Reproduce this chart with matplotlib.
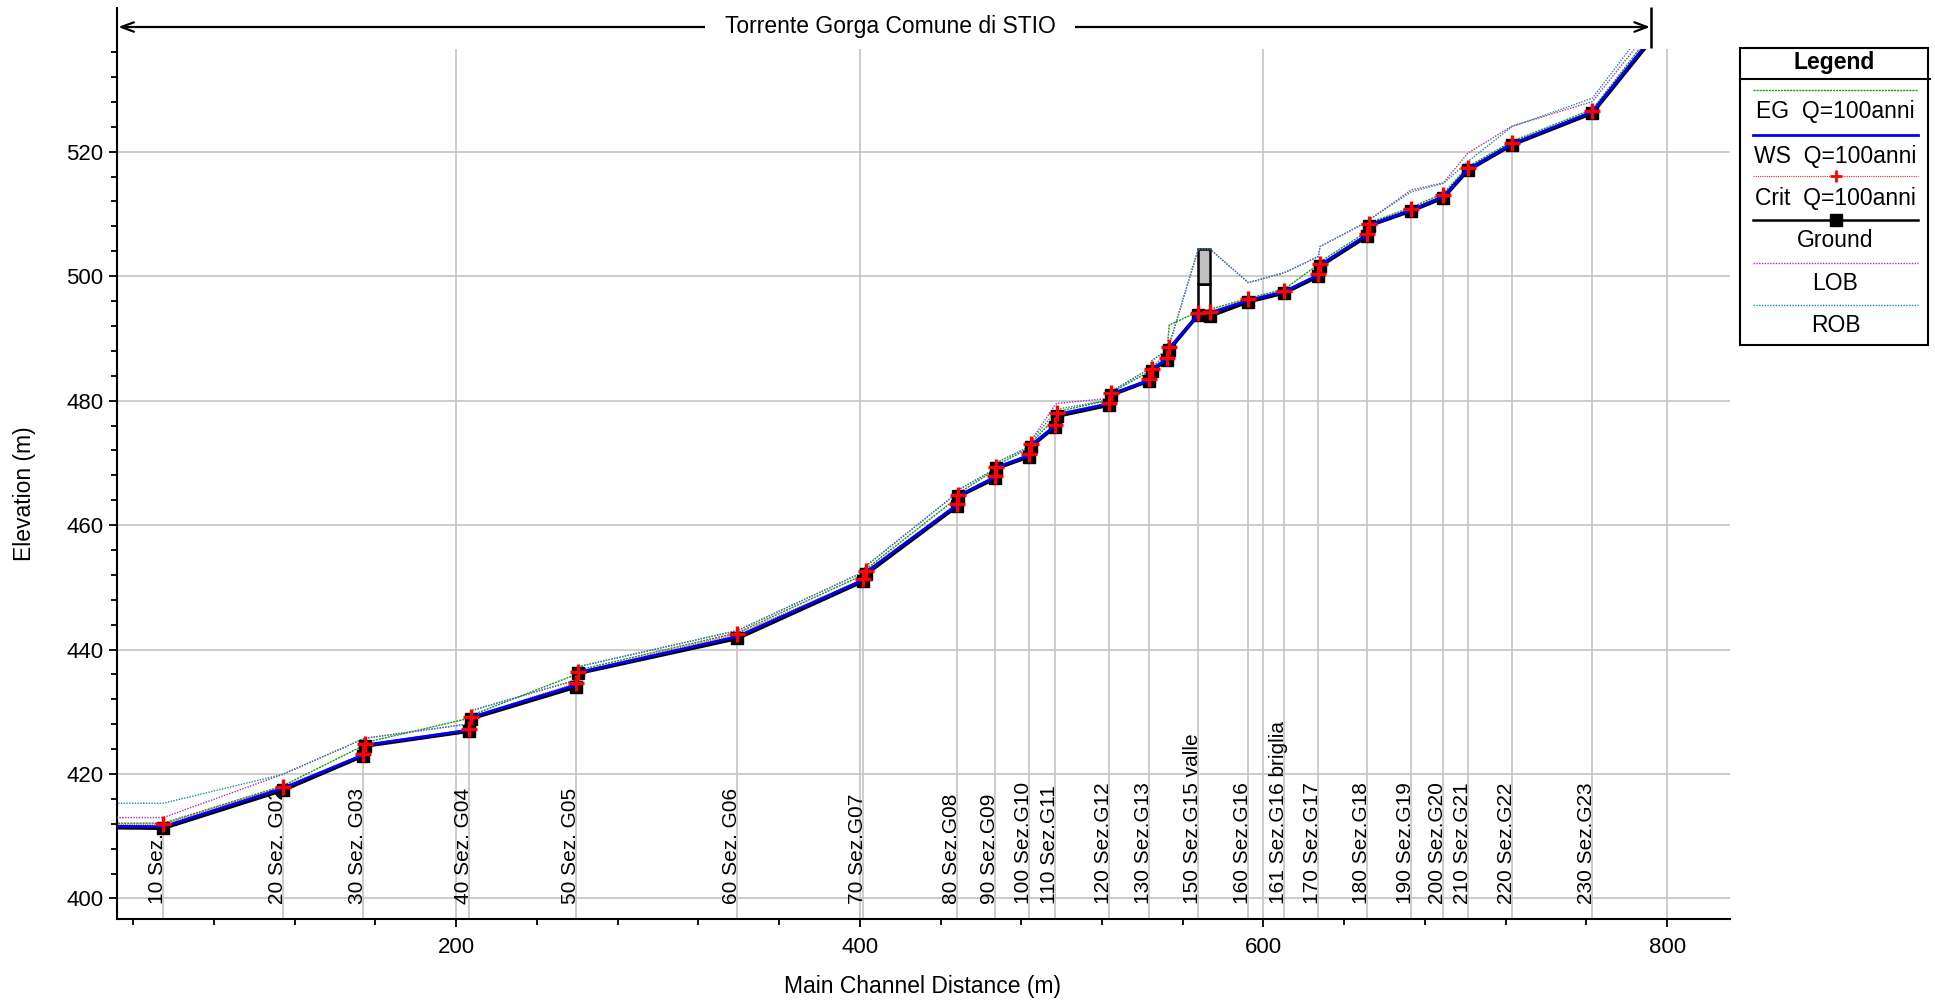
import matplotlib
matplotlib.use('Agg')
import matplotlib.pyplot as plt
from matplotlib.patches import Rectangle
import numpy as np

plt.rcParams['font.family'] = ['Liberation Sans', 'DejaVu Sans']

# ---------------- data ----------------
dist = [25.0, 55.0, 114.2, 153.8, 154.9, 206.5, 207.3, 259.5, 260.6, 339.4,
        401.8, 403.0, 448.0, 448.8, 467.0, 467.5, 483.8, 484.7, 496.7, 497.6,
        523.6, 524.5, 543.4, 544.6, 552.1, 553.3, 567.7, 573.5, 592.5, 610.3,
        627.2, 628.0, 651.1, 652.1, 673.2, 689.1, 701.2, 723.0, 762.9, 792.0]
ground = [411.4, 411.3, 417.4, 422.9, 424.5, 426.9, 428.9, 434.0, 436.2, 441.8,
          451.0, 452.1, 463.0, 464.6, 467.5, 469.1, 471.0, 472.6, 475.8, 477.5,
          479.3, 480.9, 483.2, 484.8, 486.6, 488.2, 493.8, 493.6, 495.9, 497.3,
          500.0, 501.6, 506.4, 508.1, 510.5, 512.6, 517.0, 521.1, 526.2, 537.9]
ws = [411.6, 411.55, 417.7, 423.05, 424.65, 427.05, 429.1, 434.3, 436.3, 442.1,
      451.2, 452.4, 463.2, 464.7, 467.7, 469.25, 471.2, 472.8, 475.95, 477.75,
      479.5, 481.05, 483.3, 484.95, 486.7, 488.4, 493.9, 494.1, 496.1, 497.5,
      500.2, 501.8, 506.6, 508.2, 510.6, 512.8, 517.15, 521.25, 526.4, 538.2]
crit = [411.9, 411.95, 417.95, 423.15, 424.75, 427.2, 429.2, 434.6, 436.45, 442.5,
        451.35, 452.65, 463.4, 464.85, 467.95, 469.4, 471.35, 473.0, 476.1, 477.95,
        479.65, 481.2, 483.45, 485.1, 486.8, 488.55, 494.05, 494.3, 496.3, 497.65,
        500.35, 501.9, 506.75, 508.4, 510.8, 513.05, 517.35, 521.35, 526.55, 538.5]
eg = [412.1, 412.1, 418.1, 424.5, 425.05, 428.95, 429.4, 436.0, 436.7, 442.7,
      452.0, 452.9, 464.3, 465.1, 468.85, 469.55, 472.35, 473.15, 477.15, 478.2,
      480.1, 481.3, 484.65, 485.2, 487.6, 492.15, 494.3, 494.65, 496.45, 497.9,
      501.9, 502.3, 507.1, 508.55, 511.05, 513.3, 517.55, 521.65, 526.8, 538.9]
lob = [413.0, 413.0, 419.95, 425.6, 425.75, 428.05, 430.15, 435.1, 437.25, 443.05,
       452.45, 453.4, 465.1, 465.65, 469.0, 470.0, 472.55, 473.5, 479.3, 479.55,
       480.35, 481.45, 485.1, 486.4, 488.1, 488.95, 504.35, 504.35, 498.95, 500.55,
       503.15, 504.75, 508.7, 509.0, 513.85, 515.0, 519.75, 524.1, 528.05, 539.8]
rob = [415.3, 415.3, 419.95, 425.6, 425.75, 428.05, 430.15, 435.1, 437.25, 443.05,
       452.45, 453.4, 465.1, 465.65, 469.0, 470.0, 472.55, 473.4, 478.15, 478.6,
       480.1, 481.45, 485.1, 486.4, 488.1, 488.95, 504.35, 504.35, 498.95, 500.55,
       503.15, 504.75, 508.7, 509.0, 513.55, 514.9, 518.4, 524.0, 528.6, 541.0]

section_labels = ["10 Sez.", "20 Sez. G02", "30 Sez. G03", "40 Sez. G04", "50 Sez. G05",
                  "60 Sez. G06", "70 Sez.G07", "80 Sez.G08", "90 Sez.G09", "100 Sez.G10",
                  "110 Sez.G11", "120 Sez.G12", "130 Sez.G13", "150 Sez.G15 valle",
                  "160 Sez.G16", "161 Sez.G16 briglia", "170 Sez.G17", "180 Sez.G18",
                  "190 Sez.G19", "200 Sez.G20", "210 Sez.G21", "220 Sez.G22", "230 Sez.G23"]
section_index = [1, 2, 3, 5, 7, 9, 10, 12, 14, 16, 18, 20, 22, 26, 28, 29, 30, 32,
                 34, 35, 36, 37, 38]

bridge_down, bridge_up = 26, 27
bridge_high_chord = 504.35
bridge_low_chord = 498.7

title = "Torrente Gorga Comune di STIO"
legend_labels = ["EG  Q=100anni", "WS  Q=100anni", "Crit  Q=100anni", "Ground", "LOB", "ROB"]
x_ticks = [200, 400, 600, 800]
y_ticks = [400, 420, 440, 460, 480, 500, 520]

# colours / styles
C_EG, C_WS, C_CRIT, C_GR, C_LOB, C_ROB = '#119911', '#0000ff', '#ff2020', 'black', '#a830b8', '#188c9c'

# ---------------- figure ----------------
W, H = 1935, 1000
fig = plt.figure(figsize=(W / 100, H / 100), dpi=100)
AX_L, AX_R, AX_T, AX_B = 117.3, 1730.0, 49.0, 919.0
ax = fig.add_axes([AX_L / W, 1 - AX_B / H, (AX_R - AX_L) / W, (AX_B - AX_T) / H])
ax.set_xlim(32.2, 831.1)
ax.set_ylim(396.7, 536.5)

for s in ['top', 'right']:
    ax.spines[s].set_visible(False)
for s in ['left', 'bottom']:
    ax.spines[s].set_linewidth(1.5)

ax.set_xticks(x_ticks)
ax.set_yticks(y_ticks)
ax.set_xticks(np.arange(40, 831, 40), minor=True)
ax.set_yticks(np.arange(400, 537, 4), minor=True)
ax.tick_params(which='major', direction='out', length=6, width=1.3, labelsize=16)
ax.tick_params(which='minor', direction='out', length=4.5, width=1.3)
ax.tick_params(axis='y', which='major', pad=4)
ax.tick_params(axis='x', which='major', pad=7)
ax.grid(True, which='major', color='#c4c4c4', lw=1.2)
ax.set_axisbelow(True)

ybot = ax.get_ylim()[0]
# station lines and labels
for lab, i in zip(section_labels, section_index):
    ax.plot([dist[i], dist[i]], [ybot, ground[i]], color='#c4c4c4', lw=1.2, zorder=1)
    ax.text(dist[i], 399.1, lab, rotation=90, rotation_mode='anchor', ha='left',
            va='baseline', fontsize=15, zorder=1.5)

# bridge
bw = dist[bridge_up] - dist[bridge_down]
ax.add_patch(Rectangle((dist[bridge_down], ground[bridge_down]), bw,
                       bridge_low_chord - ground[bridge_down], fc='white', ec='black',
                       lw=1.8, zorder=2.5))
ax.add_patch(Rectangle((dist[bridge_down], bridge_low_chord), bw,
                       bridge_high_chord - bridge_low_chord, fc='#c0c0c0', ec='black',
                       lw=1.8, zorder=2.6))

# profile lines
ax.plot(dist, eg, color=C_EG, lw=1.0, ls=(0, (1.5, 0.7)), zorder=4)
ax.plot(dist, lob, color=C_LOB, lw=1.0, ls=(0, (1, 1)), zorder=4)
ax.plot(dist, rob, color=C_ROB, lw=1.0, ls=(1, (1, 1)), zorder=4.1)
ax.plot(dist, crit, color=C_CRIT, lw=0.8, ls=(0, (1, 1)), zorder=4.2)
ax.plot(dist, ground, color=C_GR, lw=2.7, marker='s', ms=8.5, zorder=5)
ax.plot(dist, ws, color=C_WS, lw=2.0, zorder=6)
ax.plot(dist, crit, ls='none', marker='+', ms=11, mew=2.4, color='#ff0000', zorder=7)

# ---------------- overlay decorations (pixel coordinates) ----------------
ov = fig.add_axes([0, 0, 1, 1])
ov.set_xlim(0, W)
ov.set_ylim(H, 0)
ov.set_axis_off()


def to_px(d, e):
    x, y = ax.transData.transform((d, e))
    return x, H - y


x_end = to_px(dist[-1], 500)[0]
arrow_y = 27
ov.plot([AX_L, AX_L], [AX_T, 7], color='black', lw=1.5, solid_capstyle='butt')
ov.plot([x_end, x_end], [7, 48], color='black', lw=1.8, solid_capstyle='butt')
ov.annotate('', xy=(AX_L + 1, arrow_y), xytext=(x_end - 1, arrow_y),
            arrowprops=dict(arrowstyle='<->,head_length=0.45,head_width=0.17', lw=1.6,
                            color='black', shrinkA=0, shrinkB=0, mutation_scale=20),
            zorder=1)
tx = to_px(415, 500)[0]
t = ov.text(tx, arrow_y - 1, title, ha='center', va='center', fontsize=16.5, zorder=3)
fig.canvas.draw()
bb = t.get_window_extent()
ov.add_patch(Rectangle((bb.x0 - 20, arrow_y - 6), bb.width + 40, 12, fc='white',
                       ec='none', zorder=2))

# axis labels
ov.text(24.7, 494, "Elevation (m)", rotation=90, ha='center', va='center', fontsize=16.5)
ov.text(923, 986, "Main Channel Distance (m)", ha='center', va='center', fontsize=16.5)

# legend
LX0, LX1, LY0, LY1 = 1740, 1928, 48, 345
ov.add_patch(Rectangle((LX0, LY0), LX1 - LX0, LY1 - LY0, fc='white', ec='black', lw=1.5))
ov.plot([LX0, LX1 + 2], [79.3, 79.3], color='black', lw=1.5)
ov.text((LX0 + LX1) / 2, 63, "Legend", ha='center', va='center', fontsize=16.5,
        fontweight='bold')
sx0, sx1, sxm = 1753, 1918, 1835.5
line_y = [90, 135, 176, 220, 262.7, 305.3]
text_y = [111.7, 156.7, 198.3, 240.7, 284, 326]
styles = [dict(color=C_EG, lw=1.0, ls=(0, (1.5, 0.7))),
          dict(color=C_WS, lw=2.0),
          dict(color=C_CRIT, lw=0.8, ls=(0, (1, 1))),
          dict(color=C_GR, lw=1.8),
          dict(color=C_LOB, lw=1.0, ls=(0, (1, 1))),
          dict(color=C_ROB, lw=1.0, ls=(0, (1, 1)))]
for ly, ty, st, lab in zip(line_y, text_y, styles, legend_labels):
    ov.plot([sx0, sx1], [ly, ly], **st)
    ov.text(sxm, ty, lab, ha='center', va='center', fontsize=16.5)
ov.plot([sxm], [line_y[2]], marker='+', ms=9, mew=2, color='#ff0000', ls='none')
ov.plot([sxm], [line_y[3]], marker='s', ms=8, color='black', ls='none')

fig.savefig('out.png', dpi=100)
